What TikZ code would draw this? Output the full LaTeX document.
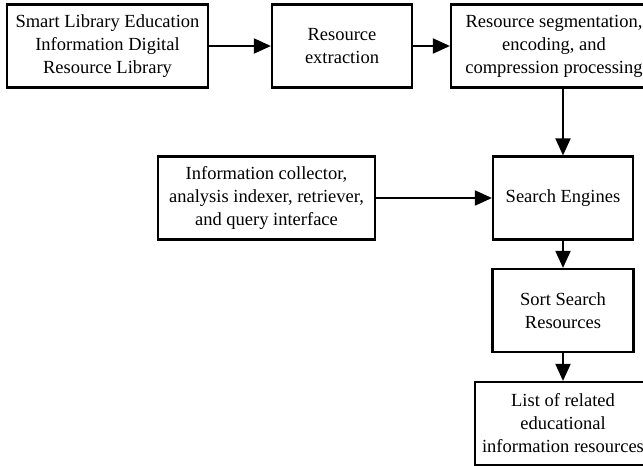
\documentclass[tikz,border=0pt]{standalone}
\usepackage{fontspec}
\setmainfont{Liberation Serif}
\usetikzlibrary{arrows.meta}
\begin{document}
\begin{tikzpicture}[x=1pt,y=-1pt,
  box/.style={draw, line width=2.2pt, align=center, inner sep=2pt,
    minimum height=83pt, font=\fontsize{18.5}{23}\selectfont},
  conn/.style={line width=1.9pt, -{Triangle[length=17pt,width=15pt]}}]
\useasboundingbox (0,0) rectangle (643,466);
\node[box, minimum width=201pt] (lib) at (107.5,46) {Smart Library Education\\Information Digital\\Resource Library};
\node[box, minimum width=140pt] (ext) at (342,46) {Resource\\extraction};
\node[box, minimum width=206pt] (seg) at (554,46) {Resource segmentation,\\encoding, and\\compression processing};
\node[box, minimum width=217pt] (info) at (266.5,198) {Information collector,\\analysis indexer, retriever,\\and query interface};
\node[box, minimum width=140pt] (srch) at (563,198) {Search Engines};
\node[box, minimum width=141pt] (sort) at (563,310.5) {Sort Search\\Resources};
\node[box, minimum width=176pt] (list) at (563,423.5) {List of related\\educational\\information resources};
\draw[conn] (lib) -- (ext);
\draw[conn] (ext) -- (seg);
\draw[conn] (seg.south -| srch.north) -- (srch.north);
\draw[conn] (info) -- (srch);
\draw[conn] (srch) -- (sort);
\draw[conn] (sort) -- (list);
\end{tikzpicture}
\end{document}
